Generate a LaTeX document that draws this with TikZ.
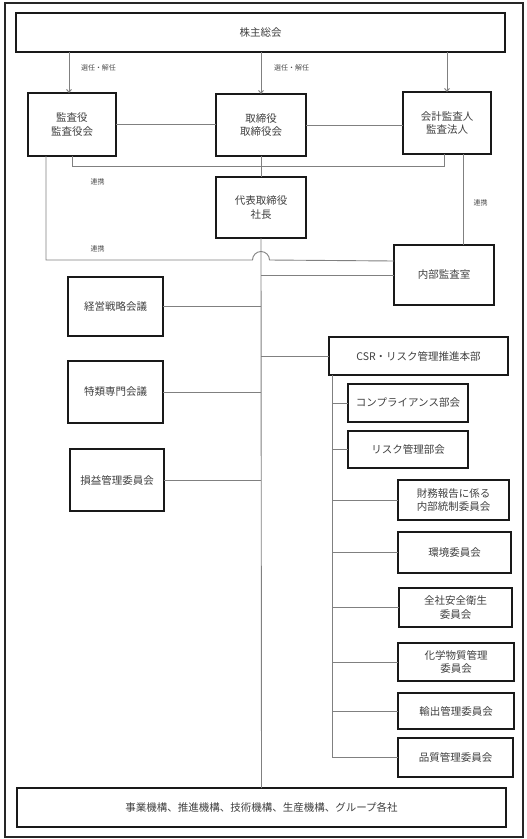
\documentclass[tikz,border=0pt]{standalone}
\usepackage{fontspec}
\setmainfont{Noto Sans CJK JP}
\usetikzlibrary{arrows.meta,calc}
\begin{document}
\begin{tikzpicture}[x=1pt,y=-1pt,
  box/.style={draw=black!90, line width=1.2pt, fill=white, inner sep=0pt, outer sep=0pt,
    align=center, font=\fontsize{10.5}{13.5}\selectfont, text=black!75},
  conn/.style={draw=black!50, line width=0.9pt},
  arr/.style={conn, -{Straight Barb[length=3pt,width=5pt]}},
  lbl/.style={font=\fontsize{7}{8}\selectfont, text=black!70, inner sep=0pt}]
\useasboundingbox (0,0) rectangle (527,839);
\draw[black!85, line width=1.2pt] (5,3) rectangle (523,837);

% nodes
\node[box, minimum width=489pt, minimum height=39pt] (top) at (260.5,32.5) {株主総会};
\node[box, minimum width=88pt, minimum height=63pt] (kansa) at (72,124.5) {監査役\\監査役会};
\node[box, minimum width=90pt, minimum height=62pt] (tori) at (261,125) {取締役\\取締役会};
\node[box, minimum width=88pt, minimum height=62pt] (kaikei) at (447,123) {会計監査人\\監査法人};
\node[box, minimum width=90pt, minimum height=61pt] (daihyo) at (261,207.5) {代表取締役\\社長};
\node[box, minimum width=100pt, minimum height=60pt] (naibu) at (444,275) {内部監査室};
\node[box, minimum width=95pt, minimum height=59pt] (keiei) at (115.5,306.5) {経営戦略会議};
\node[box, minimum width=95pt, minimum height=62pt] (tokurui) at (115.5,392) {特類専門会議};
\node[box, minimum width=94pt, minimum height=62pt] (soneki) at (117,480) {損益管理委員会};
\node[box, minimum width=179pt, minimum height=38pt] (csr) at (418.5,356) {CSR・リスク管理推進本部};
\node[box, minimum width=120pt, minimum height=38pt] (comp) at (408,403) {コンプライアンス部会};
\node[box, minimum width=120pt, minimum height=37pt] (risk) at (408,449.5) {リスク管理部会};
\node[box, minimum width=111pt, minimum height=40pt] (zaimu) at (453.5,500) {財務報告に係る\\内部統制委員会};
\node[box, minimum width=113pt, minimum height=41pt] (kankyo) at (454.5,552.5) {環境委員会};
\node[box, minimum width=113pt, minimum height=39pt] (anzen) at (455.5,607.5) {全社安全衛生\\委員会};
\node[box, minimum width=116pt, minimum height=38pt] (kagaku) at (456,662) {化学物質管理\\委員会};
\node[box, minimum width=116pt, minimum height=36pt] (yushutsu) at (456,711) {輸出管理委員会};
\node[box, minimum width=115pt, minimum height=39pt] (hinshitsu) at (455.5,757.5) {品質管理委員会};
\node[box, minimum width=489pt, minimum height=39pt] (bottom) at (261.5,807.5) {事業機構、推進機構、技術機構、生産機構、グループ各社};

% labels
\node[lbl] (l1) at (98.5,67.5) {選任・解任};
\node[lbl] (l2) at (291.5,67.5) {選任・解任};
\node[lbl] (l3) at (97.5,182) {連携};
\node[lbl] (l4) at (97.5,249) {連携};
\node[lbl] (l5) at (480.5,203) {連携};

% arrows from top
\draw[arr] ([xshift=-3pt]kansa.north |- top.south) -- ([xshift=-3pt]kansa.north);
\draw[arr] (tori.north |- top.south) -- (tori.north);
\draw[arr] (kaikei.north |- top.south) -- (kaikei.north);

% horizontal links
\draw[conn] (kansa.east) -- (kansa.east -| tori.west);
\draw[conn] (tori.east) -- (tori.east -| kaikei.west);

% U link between kansa and kaikei
\draw[conn] (kansa.south) -- ++(0,10.5) -| ([xshift=-3pt]kaikei.south);

% central trunk
\draw[conn] (tori.south) -- (daihyo.north);
\draw[conn] (daihyo.south) -- (bottom.north);

% kansa to naibu with hop
\coordinate (hopL) at ($(daihyo.south)+(-8.5,22)$);
\draw[conn] ([xshift=-26pt]kansa.south) |- (hopL)
  arc[start angle=180, end angle=360, radius=8.5] -- ([yshift=14pt]naibu.west);

% kaikei to naibu
\draw[conn] ([xshift=16pt]kaikei.south) -- ([xshift=16pt]kaikei.south |- naibu.north);

% trunk branches
\draw[conn] (naibu.west) -- (naibu.west -| daihyo.south);
\draw[conn] (keiei.east) -- (keiei.east -| daihyo.south);
\draw[conn] (tokurui.east) -- (tokurui.east -| daihyo.south);
\draw[conn] (soneki.east) -- (soneki.east -| daihyo.south);
\draw[conn] (csr.west) -- (csr.west -| daihyo.south);

% CSR sub trunk
\coordinate (sv) at ([xshift=-86.5pt]csr.south);
\draw[conn] (sv) |- (hinshitsu.west);
\foreach \n in {comp,risk,zaimu,kankyo,anzen,kagaku,yushutsu}
  \draw[conn] (\n.west) -- (\n.west -| sv);
\end{tikzpicture}
\end{document}
